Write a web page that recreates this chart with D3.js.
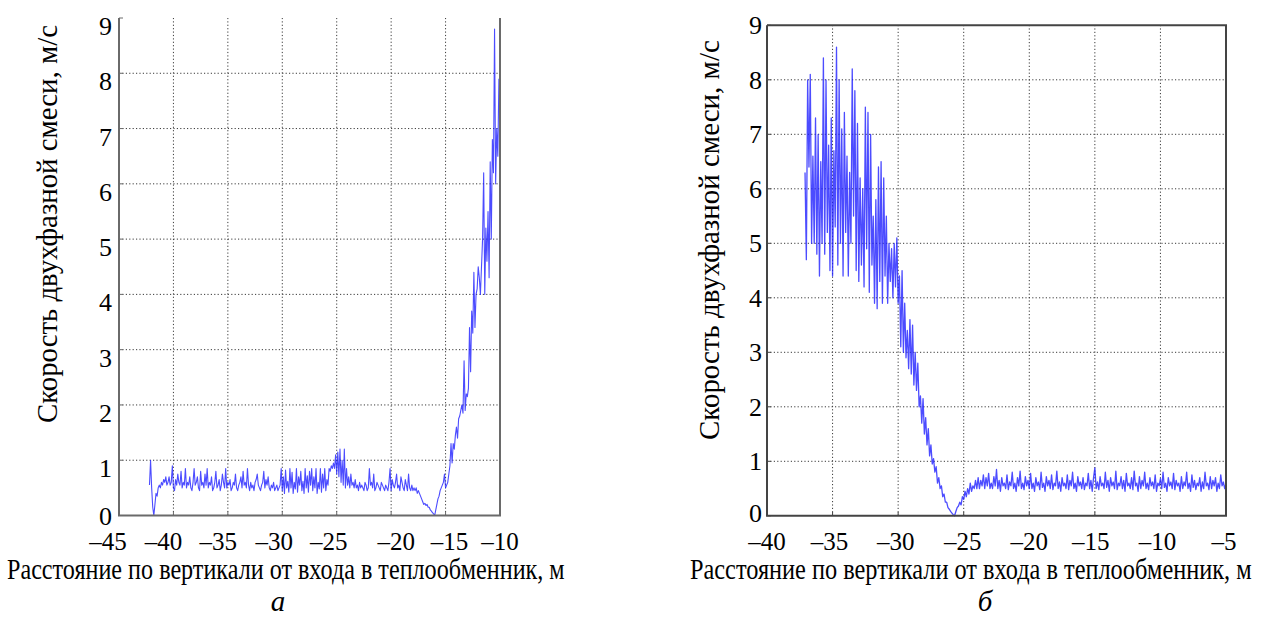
<!DOCTYPE html>
<html><head><meta charset="utf-8">
<script src="https://cdn.jsdelivr.net/npm/d3@7/dist/d3.min.js"></script>
<style>
body{margin:0;background:#fff}
svg{display:block}
</style>
</head><body>
<svg id="c" width="1261" height="621"></svg>
<script>
// ---------------- DATA ----------------
const yTicks = [0,1,2,3,4,5,6,7,8,9];
const leftXTicks = [-45,-40,-35,-30,-25,-20,-15,-10];
const rightXTicks = [-40,-35,-30,-25,-20,-15,-10,-5];
const xTitle = "Расстояние по вертикали от входа в теплообменник, м";
const yTitle = "Скорость двухфазной смеси, м/с";
const panelLabels = ["а", "б"];

// sampled series: first abscissa and sampling step (m)
const leftStartX = -42.2;
const rightStartX = -37.1;
const sampleStep = 0.1;

// panel а: speed, m/s, one value per 0.1 m starting at leftStartX
const leftSpeed = [
 .55,1.0,.5,.15,0,.2,.4,.35,.5,.55,
 .5,.6,.55,.65,.6,.7,.55,.6,.7,.55,
 .6,.9,.5,.45,.65,.55,.75,.6,.55,.8,
 .5,.6,.55,.85,.5,.6,.55,.7,.5,.45,
 .6,.85,.55,.6,.7,.5,.45,.8,.55,.6,
 .5,.75,.55,.85,.5,.6,.55,.7,.45,.5,
 .6,.8,.5,.55,.65,.45,.55,.75,.6,.5,
 .85,.5,.6,.55,.65,.45,.5,.6,.55,.75,
 .5,.45,.55,.6,.7,.5,.8,.55,.6,.5,
 .85,.55,.45,.6,.5,.55,.45,.6,.65,.75,
 .55,.5,.45,.55,.6,.8,.5,.65,.55,.7,
 .5,.45,.55,.5,.6,.45,.5,.55,.45,.5,
 .55,.85,.45,.7,.4,.82,.5,.62,.42,.85,
 .5,.78,.4,.6,.48,.85,.42,.7,.55,.8,
 .45,.62,.4,.85,.5,.72,.42,.8,.55,.85,
 .45,.7,.5,.85,.4,.6,.48,.85,.42,.75,
 .5,.85,.45,.65,.55,.85,.8,.9,.85,.95,
 .85,1.1,.75,1.15,.7,1.2,.6,1.0,.55,1.2,
 .5,.85,.55,.7,.5,.75,.55,.6,.5,.65,
 .5,.55,.45,.6,.5,.55,.5,.45,.6,.55,
 .45,.5,.85,.55,.6,.5,.75,.45,.5,.6,
 .55,.5,.45,.6,.55,.5,.45,.55,.5,.45,
 .6,.85,.45,.65,.55,.5,.6,.75,.5,.55,
 .45,.7,.6,.5,.45,.65,.55,.45,.75,.5,
 .45,.55,.45,.5,.45,.5,.4,.45,.4,.35,
 .3,.25,.2,.22,.18,.2,.15,.15,.1,.08,
 .05,.03,0,.1,.2,.3,.35,.45,.5,.55,
 .6,.75,.5,.55,.6,.75,.9,1.3,.95,1.3,
 1.2,1.45,1.6,1.4,1.75,1.8,1.9,2.0,1.85,2.8,
 1.9,2.2,2.15,2.3,3.4,2.6,3.7,3.3,4.4,3.4,
 4.0,4.1,4.5,4.3,4.0,4.5,5.0,6.2,4.0,5.2,
 4.6,5.5,4.3,6.4,5.0,6.8,6.2,8.8,6.0,7.0,
 6.5,7.9
];

// panel б: speed, m/s, one value per 0.1 m starting at rightStartX
const rightSpeed = [
 6.3,4.7,8.0,6.4,8.1,5.0,6.6,5.0,7.3,4.8,
 7.0,4.4,6.5,5.0,8.4,4.8,8.0,5.2,6.8,4.5,
 7.3,4.4,6.7,5.3,8.6,4.6,8.0,5.0,7.1,4.4,
 7.4,5.2,6.6,4.4,6.3,5.0,8.2,5.5,7.8,4.5,
 7.2,4.3,6.2,4.6,6.0,4.2,7.5,4.9,7.4,4.1,
 7.0,4.6,5.5,3.9,5.8,3.8,6.4,4.3,6.5,3.9,
 6.2,4.4,5.5,3.9,5.0,4.3,4.9,4.0,5.0,4.2,
 5.1,3.9,
 4.4,3.1,4.5,3.0,3.9,2.9,3.4,2.7,3.6,2.6,
 3.5,2.4,3.0,2.3,2.8,2.0,2.2,1.7,2.15,1.5,
 1.8,1.3,1.6,1.1,1.3,.95,1.05,.8,.9,.6,
 .7,.5,.55,.35,.4,.25,.25,.15,.12,.08,
 .05,.02,0,.08,.15,.18,.25,.2,.35,.3,
 .45,.35,.5,.4,.6,.45,.55,.5,.65,.5,
 .7,.5,.65,.55,.75,.5,.7,.55,.78,.5,
 .6,.5,.72,.55,.85,.5,.65,.45,.7,.55,
 .6,.5,.75,.48,.62,.55,.8,.5,.6,.45,
 .7,.55,.82,.5,.6,.48,.72,.55,.65,.5,
 .78,.5,.6,.45,.7,.55,.62,.48,.8,.52,
 .6,.45,.72,.55,.65,.5,.75,.48,.6,.55,
 .82,.5,.62,.45,.7,.55,.6,.5,.75,.48,
 .65,.55,.8,.5,.6,.45,.72,.55,.62,.5,
 .7,.48,.6,.55,.78,.5,.65,.45,.7,.88,
 .5,.62,.48,.72,.55,.6,.5,.8,.52,.65,
 .45,.7,.55,.62,.5,.82,.48,.6,.55,.72,
 .5,.65,.45,.78,.55,.6,.5,.7,.48,.82,
 .55,.6,.45,.72,.5,.65,.55,.8,.5,.6,
 .48,.7,.55,.62,.5,.75,.45,.6,.55,.68,
 .5,.8,.52,.6,.45,.7,.55,.62,.5,.78,
 .48,.65,.55,.6,.45,.72,.5,.62,.55,.8,
 .5,.6,.45,.75,.52,.65,.48,.6,.55,.7,
 .45,.62,.5,.8,.55,.6,.48,.72,.5,.65,
 .55,.7,.45,.6,.5,.75,.55,.62,.5,.6
];

// ---------------- DRAWING ----------------
const svg = d3.select("#c");
const gMarks = svg.append("g");
const SERIF = '"Liberation Serif", "Noto Serif", serif';

function addText(str, size, x, y, anchor, italic) {
  return svg.append("text")
    .attr("x", x).attr("y", y)
    .attr("text-anchor", anchor || "start")
    .attr("font-size", size)
    .style("font-family", SERIF)
    .style("font-style", italic ? "italic" : "normal")
    .text(str);
}
function squeeze(t, target, x, y, rotate) {
  const w = t.node().getComputedTextLength();
  const k = target / w;
  t.attr("x", 0).attr("y", 0)
   .attr("transform", `translate(${x},${y})${rotate ? " rotate(-90)" : ""} scale(${k},1)`);
}

function drawPanel(o) {
  const x = d3.scaleLinear().domain(d3.extent(o.xTicks)).range([o.left, o.right]);
  const y = d3.scaleLinear().domain(d3.extent(yTicks)).range([o.bottom, o.top]);
  const g = gMarks.append("g");

  g.selectAll(".vg").data(o.xTicks.slice(1, -1)).join("line")
    .attr("x1", d => x(d)).attr("x2", d => x(d))
    .attr("y1", y(0)).attr("y2", y(9))
    .attr("stroke", "#3a3a3a").attr("stroke-width", 1).attr("stroke-dasharray", "1.2 2.2");
  g.selectAll(".hg").data(yTicks.slice(1, -1)).join("line")
    .attr("x1", x.range()[0]).attr("x2", x.range()[1])
    .attr("y1", d => y(d)).attr("y2", d => y(d))
    .attr("stroke", "#3a3a3a").attr("stroke-width", 1).attr("stroke-dasharray", "1.2 2.2");

  const line = d3.line()
    .x((d, i) => x(o.x0 + i * sampleStep))
    .y(d => y(d));
  g.append("path").datum(o.values)
    .attr("d", line).attr("fill", "none")
    .attr("stroke", "#1f1fff").attr("stroke-width", o.lineWidth).attr("stroke-opacity", 0.8)
    .attr("stroke-linejoin", "round");

  g.selectAll(".xt").data(o.xTicks).join("line")
    .attr("x1", d => x(d)).attr("x2", d => x(d))
    .attr("y1", y(0)).attr("y2", y(0) - 4)
    .attr("stroke", o.frameColor).attr("stroke-width", 1);
  g.selectAll(".yt").data(yTicks).join("line")
    .attr("x1", x.range()[0]).attr("x2", x.range()[0] + 4)
    .attr("y1", d => y(d)).attr("y2", d => y(d))
    .attr("stroke", o.frameColor).attr("stroke-width", 1);

  const L = x.range()[0], R = x.range()[1], B = y(0), T = y(9);
  let p = `M${L},${T}L${L},${B}L${R},${B}L${R},${T}`;
  if (o.topBorder) p += `L${L},${T}`;
  g.append("path").attr("d", p).attr("fill", "none")
    .attr("stroke", o.frameColor).attr("stroke-width", o.frameWidth);

  o.xTicks.forEach((d, i) =>
    addText(d < 0 ? "\u2013" + Math.abs(d) : String(d), 25, x(d) + o.xNudge[i], B + 34, "middle"));
  yTicks.forEach(d =>
    addText(String(d), 26, L - o.yLabelGap, y(d) + (d === 0 ? o.zeroDy : o.yDy), "end"));

  squeeze(addText(xTitle, 29, 0, 0), o.xTitleLen, o.xTitleX, 579, false);
  squeeze(addText(yTitle, 29, 0, 0), o.yTitleLen, o.yTitleX, o.yTitleBottom, true);
  addText(o.panel, 29, o.panelX, 611, "middle", true);
}

drawPanel({
  xTicks: leftXTicks, values: leftSpeed, x0: leftStartX,
  left: 119, right: 500, top: 18, bottom: 515.5,
  topBorder: false, frameColor: "#6a6a6a", frameWidth: 2, lineWidth: 1.1,
  xNudge: [-11, -10, -9.5, -8, -8, 5, 4, 0],
  yLabelGap: 7, yDy: 17, zeroDy: 9,
  xTitleX: 7, xTitleLen: 558,
  yTitleX: 57, yTitleBottom: 423, yTitleLen: 398,
  panelX: 278, panel: panelLabels[0]
});

drawPanel({
  xTicks: rightXTicks, values: rightSpeed, x0: rightStartX,
  left: 767, right: 1226, top: 25.3, bottom: 515.8,
  topBorder: true, frameColor: "#444", frameWidth: 2, lineWidth: 1.3,
  xNudge: [0, -3, -2.5, -1, 0, -4, -3, -2],
  yLabelGap: 5, yDy: 9, zeroDy: 6,
  xTitleX: 690, xTitleLen: 562,
  yTitleX: 719, yTitleBottom: 440, yTitleLen: 400,
  panelX: 985, panel: panelLabels[1]
});
</script>
</body></html>
